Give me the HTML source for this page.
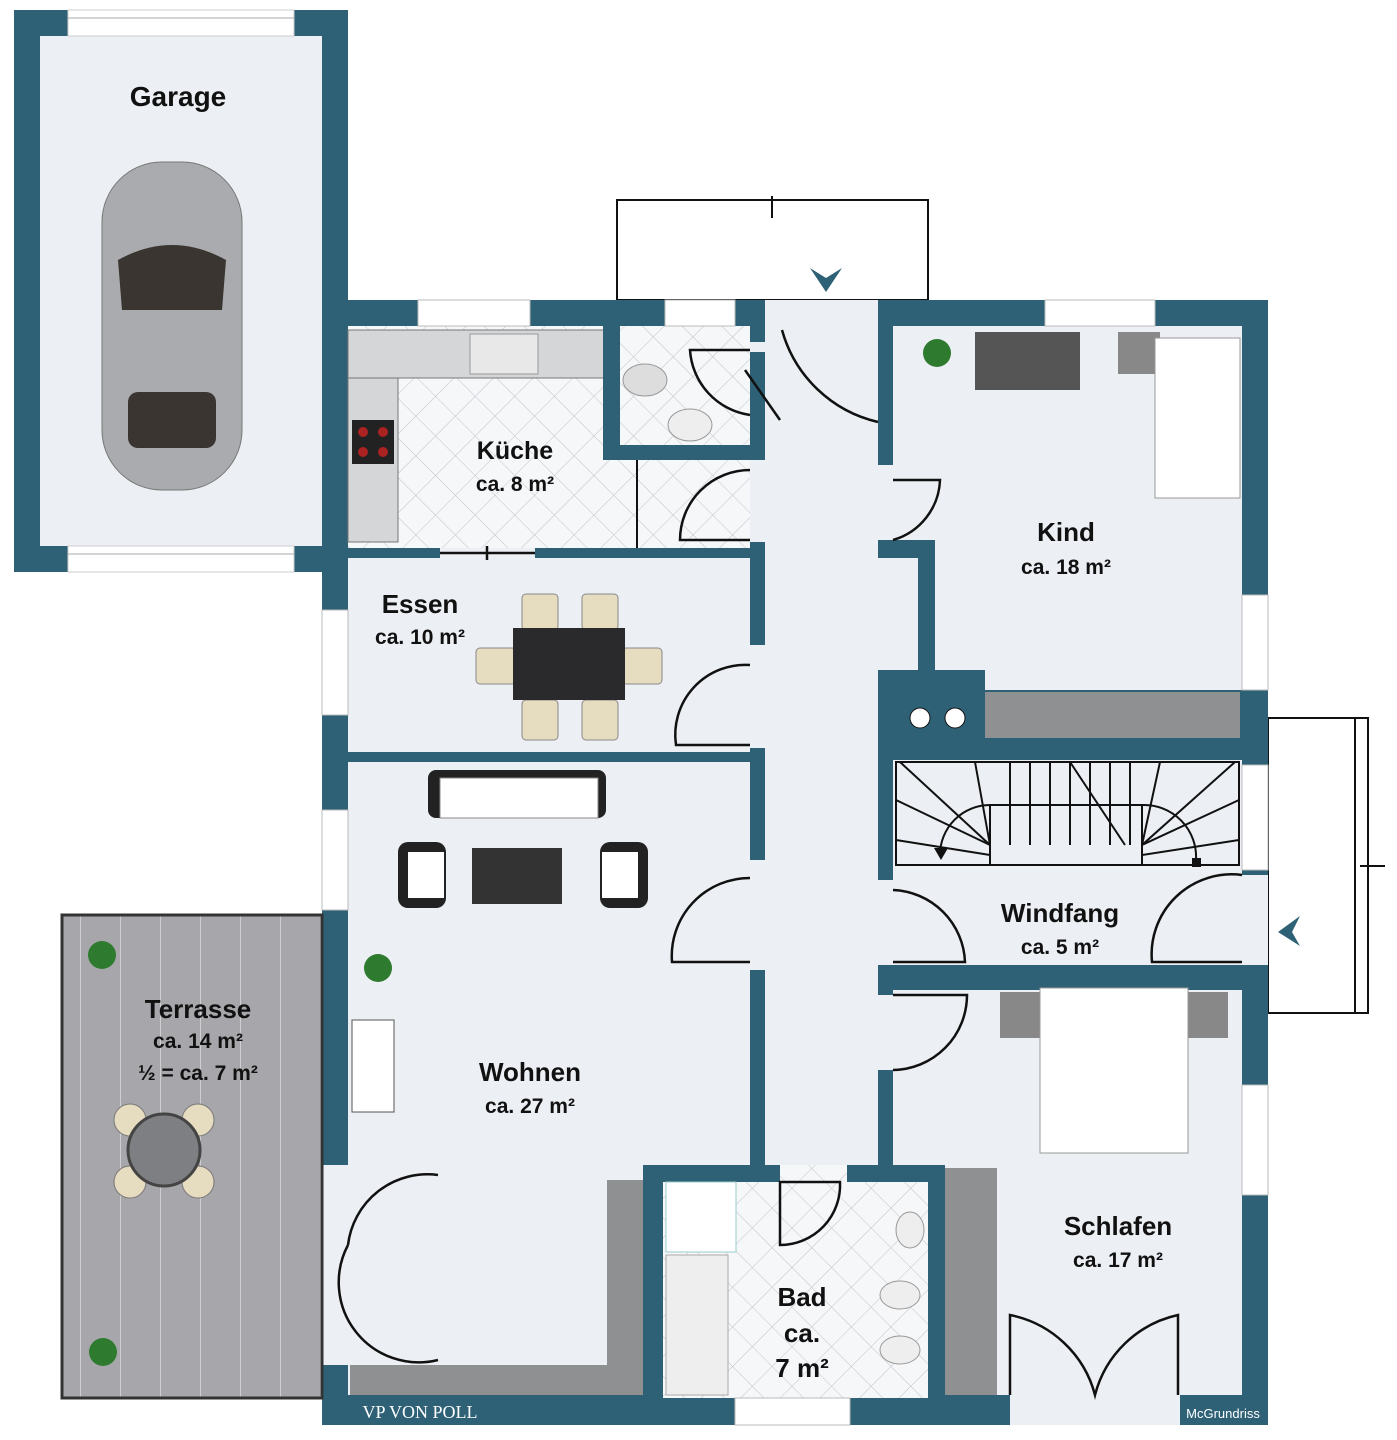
<!DOCTYPE html>
<html><head><meta charset="utf-8"><style>
html,body{margin:0;padding:0;background:#fff;}
svg{display:block;}
text{font-family:"Liberation Sans",sans-serif;font-weight:bold;fill:#111;text-anchor:middle;}
</style></head><body>
<svg width="1397" height="1440" viewBox="0 0 1397 1440" xmlns="http://www.w3.org/2000/svg">
<defs>
<pattern id="tile" width="28" height="28" patternUnits="userSpaceOnUse" patternTransform="rotate(45)">
<rect width="28" height="28" fill="#f6f7f9"/><path d="M0 0H28M0 0V28" stroke="#bfc3c8" stroke-width="1"/></pattern>
<pattern id="plank" width="40" height="20" patternUnits="userSpaceOnUse">
<rect width="40" height="20" fill="#a7a7ab"/><path d="M0 0V20" stroke="#cfcfd2" stroke-width="2"/></pattern>
</defs>
<!-- canopies -->
<rect x="617" y="200" width="311" height="100" fill="#fff" stroke="#111" stroke-width="2"/>
<line x1="772" y1="196" x2="772" y2="218" stroke="#111" stroke-width="2"/>
<path d="M810 268 L826 292 L842 268 L826 278Z" fill="#2e6176"/>
<rect x="1268" y="718" width="100" height="295" fill="#fff" stroke="#111" stroke-width="2"/>
<line x1="1355" y1="718" x2="1355" y2="1013" stroke="#111" stroke-width="2"/>
<line x1="1360" y1="866" x2="1385" y2="866" stroke="#111" stroke-width="2"/>
<path d="M1300 916 L1278 932 L1300 946 L1292 932Z" fill="#2e6176"/>
<!-- garage -->
<rect x="14" y="10" width="334" height="562" fill="#2e6176"/>
<rect x="40" y="36" width="282" height="510" fill="#eceff4"/>
<rect x="68" y="10" width="226" height="26" fill="#fff" stroke="#ccc"/>
<rect x="68" y="546" width="226" height="26" fill="#fff" stroke="#ccc"/>
<line x1="68" y1="18" x2="294" y2="18" stroke="#aaa"/><line x1="68" y1="554" x2="294" y2="554" stroke="#aaa"/>
<text x="178" y="106" font-size="28">Garage</text>
<!-- car -->
<rect x="102" y="162" width="140" height="328" rx="60" fill="#a9abae" stroke="#777"/>
<path d="M118 260 Q172 230 226 260 L222 310 L122 310Z" fill="#3a3530"/>
<rect x="128" y="392" width="88" height="56" rx="10" fill="#3a3530"/>
<!-- house base -->
<rect x="322" y="300" width="946" height="1125" fill="#2e6176"/>
<!-- rooms interiors -->
<rect x="348" y="326" width="402" height="222" fill="url(#tile)"/>
<rect x="348" y="330" width="256" height="48" fill="#d5d6d8" stroke="#777"/>
<rect x="348" y="378" width="50" height="164" fill="#d5d6d8" stroke="#777"/>
<rect x="470" y="334" width="68" height="40" fill="#e8e8e8" stroke="#999"/>
<rect x="352" y="420" width="42" height="44" fill="#222"/>
<circle cx="363" cy="432" r="5" fill="#a22"/><circle cx="383" cy="432" r="5" fill="#a22"/><circle cx="363" cy="452" r="5" fill="#a22"/><circle cx="383" cy="452" r="5" fill="#a22"/>
<rect x="603" y="300" width="17" height="160" fill="#2e6176"/>
<rect x="603" y="445" width="160" height="15" fill="#2e6176"/>
<rect x="620" y="326" width="130" height="119" fill="url(#tile)"/>
<line x1="637" y1="460" x2="637" y2="548" stroke="#111" stroke-width="2"/>
<ellipse cx="645" cy="380" rx="22" ry="16" fill="#ddd" stroke="#999"/>
<ellipse cx="690" cy="425" rx="22" ry="16" fill="#eee" stroke="#999"/>
<text x="515" y="459" font-size="25">Küche</text>
<text x="515" y="491" font-size="21">ca. 8 m²</text>
<!-- corridor -->
<rect x="765" y="326" width="113" height="840" fill="#eceff4"/>
<rect x="765" y="300" width="113" height="26" fill="#eceff4"/>
<!-- Essen -->
<rect x="348" y="558" width="402" height="194" fill="#eceff4"/>
<text x="420" y="613" font-size="26">Essen</text>
<text x="420" y="644" font-size="21">ca. 10 m²</text>
<g fill="#e6dcc0" stroke="#888">
<rect x="522" y="594" width="36" height="36" rx="4"/><rect x="582" y="594" width="36" height="36" rx="4"/>
<rect x="522" y="700" width="36" height="40" rx="4"/><rect x="582" y="700" width="36" height="40" rx="4"/>
<rect x="476" y="648" width="40" height="36" rx="4"/><rect x="622" y="648" width="40" height="36" rx="4"/></g>
<rect x="513" y="628" width="112" height="72" fill="#2a2a2c"/>
<!-- Wohnen -->
<rect x="348" y="762" width="402" height="633" fill="#eceff4"/>
<rect x="428" y="770" width="178" height="48" rx="8" fill="#222"/><rect x="440" y="778" width="158" height="40" fill="#fff" stroke="#888"/>
<rect x="398" y="842" width="48" height="66" rx="10" fill="#222"/><rect x="408" y="852" width="36" height="46" fill="#fff"/>
<rect x="600" y="842" width="48" height="66" rx="10" fill="#222"/><rect x="602" y="852" width="36" height="46" fill="#fff"/>
<rect x="472" y="848" width="90" height="56" fill="#333"/>
<rect x="352" y="1020" width="42" height="92" fill="#fff" stroke="#555"/>
<text x="530" y="1081" font-size="26">Wohnen</text>
<text x="530" y="1113" font-size="21">ca. 27 m²</text>
<!-- Kind -->
<rect x="893" y="326" width="349" height="364" fill="#eceff4"/>
<rect x="878" y="540" width="40" height="150" fill="#eceff4"/>
<rect x="878" y="540" width="57" height="18" fill="#2e6176"/>
<rect x="918" y="540" width="17" height="150" fill="#2e6176"/>
<rect x="878" y="670" width="107" height="90" fill="#2e6176"/>
<circle cx="920" cy="718" r="10" fill="#fff" stroke="#111"/><circle cx="955" cy="718" r="10" fill="#fff" stroke="#111"/>
<rect x="985" y="692" width="255" height="46" fill="#8f9092"/>
<rect x="975" y="332" width="105" height="58" fill="#555"/>
<rect x="1118" y="332" width="42" height="42" fill="#888"/>
<rect x="1155" y="338" width="85" height="160" fill="#fff" stroke="#999"/>
<text x="1066" y="541" font-size="26">Kind</text>
<text x="1066" y="574" font-size="21">ca. 18 m²</text>
<!-- Windfang -->
<rect x="893" y="760" width="349" height="205" fill="#eceff4"/>
<rect x="1242" y="875" width="26" height="90" fill="#eceff4"/>
<g stroke="#111" stroke-width="2" fill="none">
<rect x="896" y="762" width="343" height="103"/>
<path d="M990 805 H1142 M990 805 V865 M1142 805 V865"/>
<path d="M1010 762V845M1030 762V845M1050 762V845M1070 762V845M1090 762V845M1110 762V845M1130 762V845M1070 762 L1125 845"/>
<path d="M896 800 L990 845 M900 762 L990 845 M975 762 L990 845 M896 840 L990 855 M1239 800 L1142 845 M1235 762 L1142 845 M1160 762 L1142 845 M1239 840 L1142 855"/>
<path d="M940 855 A50 50 0 0 1 990 805 M1142 805 A52 52 0 0 1 1196 860"/>
</g>
<path d="M934 848 L948 848 L941 860Z" fill="#111"/><rect x="1192" y="858" width="9" height="9" fill="#111"/>
<text x="1060" y="922" font-size="26">Windfang</text>
<text x="1060" y="954" font-size="21">ca. 5 m²</text>
<!-- Schlafen -->
<rect x="893" y="990" width="349" height="405" fill="#eceff4"/>
<rect x="1000" y="992" width="228" height="46" fill="#888"/>
<rect x="1040" y="988" width="148" height="165" fill="#fff" stroke="#999"/>
<rect x="1010" y="1395" width="170" height="30" fill="#eceff4"/>
<text x="1118" y="1235" font-size="26">Schlafen</text>
<text x="1118" y="1267" font-size="21">ca. 17 m²</text>
<!-- Bad -->
<rect x="643" y="1165" width="302" height="260" fill="#2e6176"/>
<rect x="663" y="1182" width="265" height="216" fill="url(#tile)"/>
<rect x="780" y="1165" width="67" height="17" fill="url(#tile)"/>
<rect x="945" y="1168" width="52" height="227" fill="#8f9092"/>
<rect x="350" y="1365" width="293" height="30" fill="#8f9092"/>
<rect x="607" y="1180" width="36" height="215" fill="#8f9092"/>
<rect x="666" y="1182" width="70" height="70" fill="#fff" stroke="#9cc"/>
<rect x="666" y="1255" width="62" height="140" fill="#eee" stroke="#aaa"/>
<ellipse cx="910" cy="1230" rx="14" ry="18" fill="#eee" stroke="#999"/>
<ellipse cx="900" cy="1295" rx="20" ry="14" fill="#eee" stroke="#999"/>
<ellipse cx="900" cy="1350" rx="20" ry="14" fill="#eee" stroke="#999"/>
<text x="802" y="1306" font-size="26">Bad</text>
<text x="802" y="1342" font-size="26">ca.</text>
<text x="802" y="1377" font-size="26">7 m²</text>
<!-- corridor walls openings -->
<rect x="750" y="460" width="15" height="82" fill="#eceff4"/>
<rect x="750" y="645" width="15" height="103" fill="#eceff4"/>
<rect x="750" y="860" width="15" height="110" fill="#eceff4"/>
<rect x="878" y="465" width="15" height="75" fill="#eceff4"/>
<rect x="878" y="880" width="15" height="85" fill="#eceff4"/>
<rect x="878" y="995" width="15" height="75" fill="#eceff4"/>
<rect x="322" y="1165" width="26" height="200" fill="#eceff4"/>
<rect x="440" y="548" width="95" height="10" fill="#eceff4"/>
<rect x="750" y="342" width="15" height="10" fill="#eceff4"/>
<!-- doors -->
<g stroke="#111" stroke-width="2.5" fill="none">
<path d="M878 422 A130 130 0 0 1 782 330"/>
<path d="M750 350 L690 350 A70 70 0 0 0 750 415"/>
<path d="M750 470 A70 70 0 0 0 680 540 L750 540"/>
<path d="M750 665 A70 70 0 0 0 676 745 L750 745"/>
<path d="M750 878 A78 78 0 0 0 672 962 L750 962"/>
<path d="M893 540 A65 65 0 0 0 940 480 L893 480"/>
<path d="M893 890 A75 75 0 0 1 965 962 L893 962"/>
<path d="M1242 875 A80 80 0 0 0 1152 962 L1242 962"/>
<path d="M893 1070 A75 75 0 0 0 967 995 L893 995"/>
<path d="M780 1245 A60 60 0 0 0 840 1182 L780 1182 Z"/>
<path d="M348 1245 A80 80 0 0 1 438 1175 M348 1245 A80 80 0 0 0 438 1360"/>
<path d="M1010 1395 V1315 A110 110 0 0 1 1095 1395 A110 110 0 0 1 1178 1315 V1395"/>
<path d="M440 553 H535 M487 546 V560"/>
<path d="M745 370 L780 420"/>
</g>
<!-- terrace -->
<rect x="62" y="915" width="260" height="483" fill="url(#plank)" stroke="#333" stroke-width="3"/>
<g fill="#e6dcc0" stroke="#777"><circle cx="130" cy="1120" r="16"/><circle cx="198" cy="1120" r="16"/><circle cx="130" cy="1182" r="16"/><circle cx="198" cy="1182" r="16"/></g>
<circle cx="164" cy="1150" r="36" fill="#7d7f82" stroke="#444" stroke-width="3"/>
<text x="198" y="1018" font-size="26">Terrasse</text>
<text x="198" y="1048" font-size="21">ca. 14 m²</text>
<text x="198" y="1080" font-size="21">½ = ca. 7 m²</text>
<!-- plants -->
<g fill="#2e7a2e"><circle cx="937" cy="353" r="14"/><circle cx="378" cy="968" r="14"/><circle cx="102" cy="955" r="14"/><circle cx="103" cy="1352" r="14"/></g>
<!-- windows -->
<g fill="#fff" stroke="#bbb">
<rect x="418" y="300" width="112" height="26"/><rect x="665" y="300" width="70" height="26"/><rect x="1045" y="300" width="110" height="26"/>
<rect x="322" y="610" width="26" height="105"/><rect x="322" y="810" width="26" height="100"/>
<rect x="1242" y="595" width="26" height="95"/><rect x="1242" y="765" width="26" height="105"/><rect x="1242" y="1085" width="26" height="110"/>
<rect x="735" y="1398" width="115" height="27"/>
</g>
<text x="1223" y="1418" font-size="13" style="font-weight:normal;fill:#fff">McGrundriss</text>
<text x="420" y="1418" font-size="18" style="font-family:'Liberation Serif',serif;fill:#fff;font-weight:normal">VP VON POLL</text>
</svg>
</body></html>
